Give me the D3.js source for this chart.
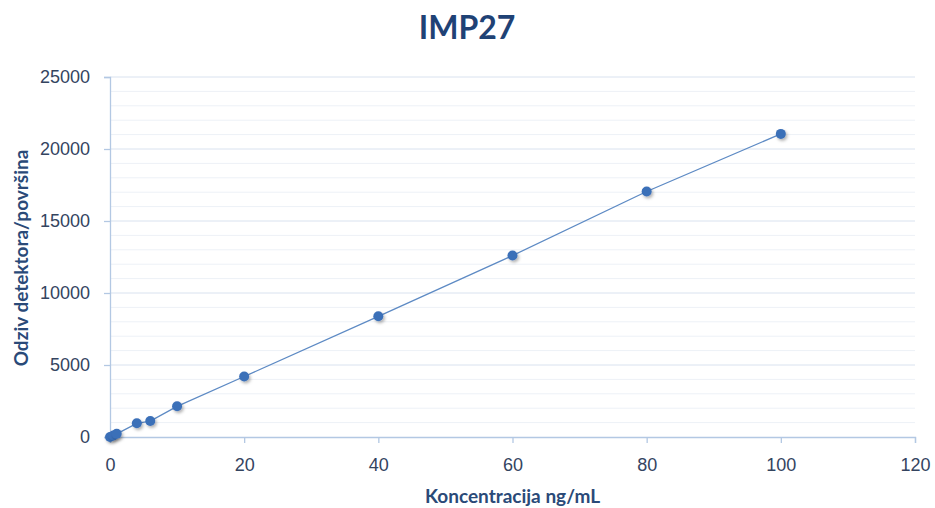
<!DOCTYPE html>
<html lang="hr">
<head>
<meta charset="utf-8">
<script src="https://d3js.org/d3.v7.min.js"></script>
<style type="text/css">
body {
	margin: 0;
	background-color: #ffffff;
	font-family: Lato, "Open Sans", sans-serif;
}
.axis text {
	font-size: 18px;
	fill: #34445f;
}
</style>
</head>
<body>
<div class="chart"></div>
<script type="text/javascript">
// data
var concentration = [0, 0.5, 1, 4, 6, 10, 20, 40, 60, 80, 100];
var response = [0, 110, 220, 950, 1110, 2130, 4200, 8380, 12600, 17050, 21050];
var xTicks = [0, 20, 40, 60, 80, 100, 120];
var yTicks = [0, 5000, 10000, 15000, 20000, 25000];

var width = 935, height = 508;
var margin = {left: 110, right: 20, top: 77, bottom: 71};

var svg = d3.select(".chart").append("svg")
	.attr("width", width)
	.attr("height", height);

var x = d3.scaleLinear().domain([0, 120]).range([margin.left, width - margin.right]);
var y = d3.scaleLinear().domain([0, 25000]).range([height - margin.bottom, margin.top]);

// minor gridlines every 1000
svg.append("g").selectAll("line")
	.data(d3.range(1000, 25001, 1000).filter(function(d) { return d % 5000 != 0; }))
	.enter().append("line")
	.attr("x1", x(0)).attr("x2", x(120))
	.attr("y1", function(d) { return y(d); })
	.attr("y2", function(d) { return y(d); })
	.style("stroke", "#edf1f7")
	.style("stroke-width", 1);

// major gridlines
svg.append("g").selectAll("line")
	.data(yTicks.slice(1))
	.enter().append("line")
	.attr("x1", x(0)).attr("x2", x(120))
	.attr("y1", function(d) { return y(d); })
	.attr("y2", function(d) { return y(d); })
	.style("stroke", "#d9e2ef")
	.style("stroke-width", 1);

var xAxis = d3.axisBottom(x).tickValues(xTicks).tickSize(6).tickPadding(15);
var yAxis = d3.axisLeft(y).tickValues(yTicks).tickSize(6).tickPadding(14).tickFormat(d3.format("d"));

var gx = svg.append("g")
	.attr("class", "axis")
	.attr("transform", "translate(0," + y(0) + ")")
	.call(xAxis);
var gy = svg.append("g")
	.attr("class", "axis")
	.attr("transform", "translate(" + x(0) + ",0)")
	.call(yAxis);
svg.selectAll(".axis path, .axis line")
	.style("stroke", "#b3c8e3")
	.style("stroke-width", 1.3);

// drop shadow for markers
var defs = svg.append("defs");
var f = defs.append("filter").attr("id", "shadow")
	.attr("x", "-50%").attr("y", "-50%").attr("width", "200%").attr("height", "200%");
f.append("feDropShadow")
	.attr("dx", 1.5).attr("dy", 2)
	.attr("stdDeviation", 1.5)
	.attr("flood-color", "#000")
	.attr("flood-opacity", 0.3);

var pts = concentration.map(function(c, i) { return [c, response[i]]; });

var line = d3.line()
	.x(function(d) { return x(d[0]); })
	.y(function(d) { return y(d[1]); });

svg.append("path")
	.datum(pts)
	.attr("d", line)
	.style("fill", "none")
	.style("stroke", "#5d8ac4")
	.style("stroke-width", 1.3);

svg.append("g").selectAll("circle")
	.data(pts)
	.enter().append("circle")
	.attr("cx", function(d) { return x(d[0]); })
	.attr("cy", function(d) { return y(d[1]); })
	.attr("r", 5)
	.style("fill", "#3b6fb8")
	.attr("filter", "url(#shadow)");

// title and axis titles
svg.append("text")
	.attr("x", 467).attr("y", 39)
	.attr("text-anchor", "middle")
	.style("font-size", "32px")
	.style("font-weight", "bold")
	.style("fill", "#1f4275")
	.text("IMP27");

svg.append("text")
	.attr("x", (x(0) + x(120)) / 2).attr("y", 503)
	.attr("text-anchor", "middle")
	.style("font-size", "19px")
	.style("font-weight", "bold")
	.style("fill", "#2a4a78")
	.text("Koncentracija ng/mL");

svg.append("text")
	.attr("transform", "translate(28," + 258 + ")rotate(-90)")
	.attr("text-anchor", "middle")
	.style("font-size", "19px")
	.style("font-weight", "bold")
	.style("fill", "#2a4a78")
	.text("Odziv detektora/površina");
</script>
</body>
</html>
